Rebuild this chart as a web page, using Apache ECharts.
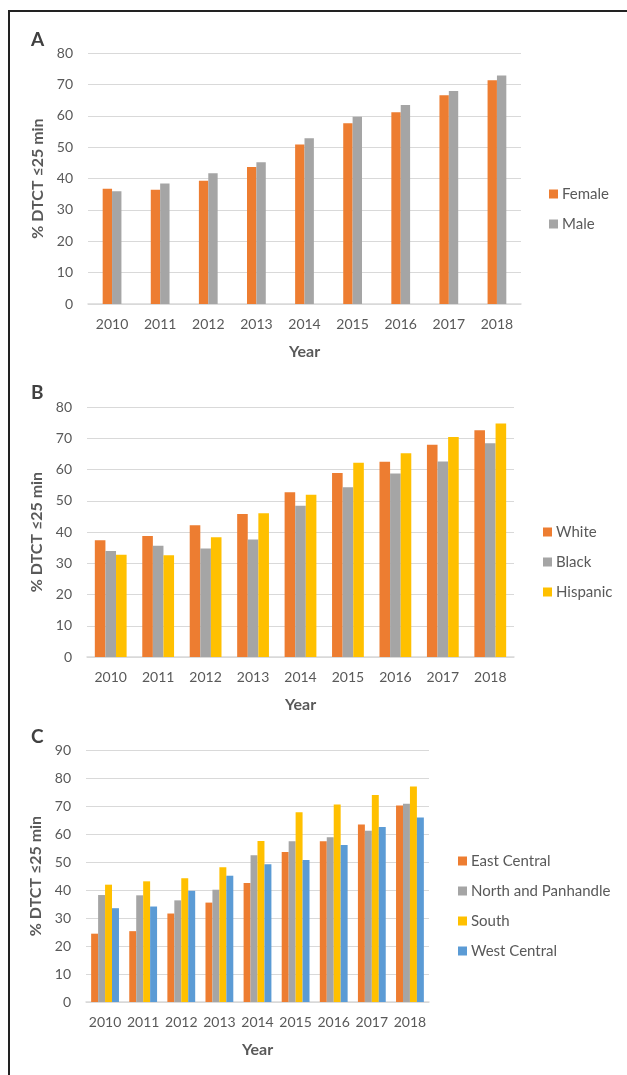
<!DOCTYPE html>
<html>
<head>
<meta charset="utf-8">
<script src="https://cdn.jsdelivr.net/npm/echarts@6/dist/echarts.min.js"></script>
<style>
  html, body { margin: 0; padding: 0; background: #ffffff; }
  #wrap { position: relative; width: 627px; height: 1075px; overflow: hidden; }
  #chart { position: absolute; left: 0; top: 0; width: 627px; height: 1075px; }
  #frame { position: absolute; left: 8px; top: 10px; width: 640px; height: 1100px;
           border-left: 2px solid #222; border-top: 2px solid #222; pointer-events: none; }
</style>
</head>
<body>
<div id="wrap">
  <div id="chart"></div>
  <div id="frame"></div>
</div>
<script>
// ---- Data ----
const years = ['2010','2011','2012','2013','2014','2015','2016','2017','2018'];

// Panel A: sex
const female = [36.7, 36.4, 39.3, 43.7, 50.8, 57.6, 61.1, 66.5, 71.3];
const male   = [35.9, 38.4, 41.7, 45.2, 52.8, 59.7, 63.4, 67.9, 72.8];

// Panel B: race/ethnicity
const white    = [37.4, 38.7, 42.2, 45.8, 52.7, 58.9, 62.5, 67.9, 72.6];
const black    = [33.9, 35.6, 34.7, 37.6, 48.4, 54.3, 58.7, 62.6, 68.4];
const hispanic = [32.7, 32.6, 38.3, 46.0, 51.9, 62.2, 65.2, 70.4, 74.7];

// Panel C: region
const eastCentral = [24.4, 25.3, 31.6, 35.5, 42.5, 53.6, 57.4, 63.4, 70.2];
const northPan    = [38.2, 38.1, 36.3, 40.1, 52.4, 57.4, 58.8, 61.2, 70.8];
const south       = [41.9, 43.1, 44.2, 48.1, 57.5, 67.8, 70.5, 73.9, 77.0];
const westCentral = [33.5, 34.1, 39.7, 45.1, 49.2, 50.7, 56.1, 62.5, 65.9];

const yTitle = '% DTCT \u226425 min';
const xTitle = 'Year';

// ---- Styling ----
const FONT = 'Lato, "Open Sans", sans-serif';
const TXT = '#595959';
const C_OR = '#ED7D31', C_GR = '#A5A5A5', C_YE = '#FFC000', C_BL = '#5B9BD5';

const chart = echarts.init(document.getElementById('chart'), null, { renderer: 'canvas' });

function xAx(gi) {
  return {
    type: 'category', gridIndex: gi, data: years,
    axisTick: { show: false },
    axisLine: { show: true, lineStyle: { color: '#D9D9D9', width: 1.5 } },
    axisLabel: { interval: 0, margin: 13, fontSize: 14, color: TXT, fontFamily: FONT },
    name: xTitle, nameLocation: 'middle', nameGap: 40,
    nameTextStyle: { fontSize: 16, fontWeight: 'bold', color: TXT, fontFamily: FONT }
  };
}
function yAx(gi, max) {
  return {
    type: 'value', gridIndex: gi, min: 0, max: max, interval: 10,
    axisLine: { show: false }, axisTick: { show: false },
    axisLabel: { margin: 15, fontSize: 14, color: TXT, fontFamily: FONT },
    splitLine: { lineStyle: { color: '#D9D9D9', width: 1 } },
    name: yTitle, nameLocation: 'middle', nameGap: 38, nameRotate: 90,
    nameTextStyle: { fontSize: 16, fontWeight: 'bold', color: TXT, fontFamily: FONT }
  };
}
function bar(name, data, color, gi, gap) {
  return {
    type: 'bar', name: name, data: data, xAxisIndex: gi, yAxisIndex: gi,
    itemStyle: { color: color }, barGap: '0%', barCategoryGap: gap,
    emphasis: { disabled: true }, animation: false
  };
}
function leg(names, left, top, gap) {
  return {
    data: names, orient: 'vertical', left: left, top: top, padding: 0,
    icon: 'rect', itemWidth: 9, itemHeight: 9, itemGap: gap,
    selectedMode: false,
    textStyle: { fontSize: 15, lineHeight: 16, color: TXT, fontFamily: FONT, padding: [0, 0, 0, -1] }
  };
}
function ttl(text, top) {
  return {
    text: text, left: 31, top: top, padding: 0,
    textStyle: { fontSize: 19, fontWeight: 'bold', color: '#404040', fontFamily: FONT, lineHeight: 20 }
  };
}

const option = {
  animation: false,
  backgroundColor: '#ffffff',
  title: [ ttl('A', 30), ttl('B', 383), ttl('C', 727) ],
  grid: [
    { left: 88, top: 53, width: 433, height: 251 },
    { left: 87, top: 407, width: 427, height: 250 },
    { left: 86, top: 750, width: 343, height: 252 }
  ],
  xAxis: [ xAx(0), xAx(1), xAx(2) ],
  yAxis: [ yAx(0, 80), yAx(1, 80), yAx(2, 90) ],
  legend: [
    leg(['Female', 'Male'], 549, 186, 14),
    leg(['White', 'Black', 'Hispanic'], 543, 524, 14),
    leg(['East Central', 'North and Panhandle', 'South', 'West Central'], 458, 853, 14)
  ],
  series: [
    bar('Female', female, C_OR, 0, '61%'),
    bar('Male', male, C_GR, 0, '61%'),
    bar('White', white, C_OR, 1, '33%'),
    bar('Black', black, C_GR, 1, '33%'),
    bar('Hispanic', hispanic, C_YE, 1, '33%'),
    bar('East Central', eastCentral, C_OR, 2, '27%'),
    bar('North and Panhandle', northPan, C_GR, 2, '27%'),
    bar('South', south, C_YE, 2, '27%'),
    bar('West Central', westCentral, C_BL, 2, '27%')
  ]
};
chart.setOption(option);
</script>
</body>
</html>
